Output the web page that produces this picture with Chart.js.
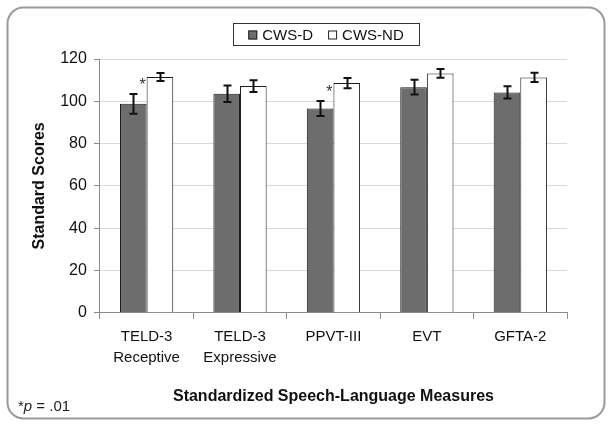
<!DOCTYPE html>
<html>
<head>
<meta charset="utf-8">
<script src="https://cdn.jsdelivr.net/npm/chart.js@4.4.1/dist/chart.umd.min.js"></script>
<style>
    html, body { margin: 0; padding: 0; background: #fff; }
    #wrap { width: 612px; height: 427px; position: relative; }
</style>
</head>
<body>
<div id="wrap"><canvas id="scoresChart" width="612" height="427"></canvas></div>
<script>
const categories = [
    ['TELD-3', 'Receptive'],
    ['TELD-3', 'Expressive'],
    'PPVT-III',
    'EVT',
    'GFTA-2',
];
const seriesNames = ['CWS-D', 'CWS-ND'];
const cwsD = [98.8, 103.6, 96.6, 106.7, 104.2];
const cwsND = [111.5, 107.2, 108.6, 113.2, 111.3];
const errD = [4.7, 3.9, 3.6, 3.5, 2.9];
const errND = [1.9, 2.8, 2.4, 2.1, 2.2];
const significant = [true, false, true, false, false];
const yTicks = [0, 20, 40, 60, 80, 100, 120];

const fontFamily = '"Liberation Sans", Arial, sans-serif';
const errors = [errD, errND];

const frame = {
    id: 'frame',
    beforeDraw(chart) {
        const { ctx } = chart;
        ctx.save();
        ctx.fillStyle = '#fff';
        ctx.fillRect(0, 0, chart.width, chart.height);
        ctx.strokeStyle = '#9a9a9a';
        ctx.lineWidth = 2;
        ctx.beginPath();
        ctx.roundRect(7.5, 7.5, 597, 411, 16);
        ctx.stroke();
        ctx.restore();
    },
};

const errorBars = {
    id: 'errorBars',
    afterDatasetsDraw(chart) {
        const { ctx } = chart;
        const y = chart.scales.y;
        ctx.save();
        ctx.strokeStyle = '#111';
        ctx.lineWidth = 2;
        chart.data.datasets.forEach((ds, di) => {
            const meta = chart.getDatasetMeta(di);
            meta.data.forEach((bar, i) => {
                const top = y.getPixelForValue(ds.data[i] + errors[di][i]);
                const bottom = y.getPixelForValue(ds.data[i] - errors[di][i]);
                const x = Math.round(bar.x) + 0.5;
                ctx.beginPath();
                ctx.moveTo(x, top);
                ctx.lineTo(x, bottom);
                ctx.moveTo(x - 4, top);
                ctx.lineTo(x + 4, top);
                ctx.moveTo(x - 4, bottom);
                ctx.lineTo(x + 4, bottom);
                ctx.stroke();
            });
        });

        // significance stars next to CWS-ND bars
        ctx.fillStyle = '#333';
        ctx.font = `16px ${fontFamily}`;
        ctx.textAlign = 'right';
        ctx.textBaseline = 'top';
        const ndMeta = chart.getDatasetMeta(1);
        significant.forEach((flag, i) => {
            if (!flag) {
                return;
            }
            const bar = ndMeta.data[i];
            ctx.fillText('*', bar.x - bar.width / 2 - 1, bar.y + 1);
        });
        ctx.restore();
    },
};

const boxedLegend = {
    id: 'boxedLegend',
    afterDraw(chart) {
        const { ctx } = chart;
        const colors = chart.data.datasets.map((ds) => ds.backgroundColor);
        ctx.save();
        ctx.font = `15px ${fontFamily}`;
        ctx.textBaseline = 'middle';
        ctx.textAlign = 'left';
        const box = 9;
        const gap = 5;
        const spacing = 15;
        const widths = seriesNames.map((n) => box + gap + ctx.measureText(n).width);
        const total = widths.reduce((a, b) => a + b, 0) + spacing;
        const cx = 326;
        const cy = 35;
        ctx.strokeStyle = '#333';
        ctx.lineWidth = 1;
        ctx.strokeRect(233.5, 23.5, 186, 22);
        let x = cx - total / 2;
        seriesNames.forEach((name, i) => {
            ctx.fillStyle = colors[i];
            ctx.fillRect(x, cy - 4.5, box, box);
            ctx.strokeStyle = '#222';
            ctx.strokeRect(x + 0.5, cy - 4, box - 1, box - 1);
            ctx.fillStyle = '#111';
            ctx.fillText(name, x + box + gap, cy + 1);
            x += widths[i] + spacing;
        });

        // footnote
        ctx.font = `15px ${fontFamily}`;
        ctx.textBaseline = 'alphabetic';
        let fx = 18;
        const fy = 411;
        ctx.fillStyle = '#222';
        ctx.fillText('*', fx, fy);
        fx += ctx.measureText('*').width;
        ctx.font = `italic 15px ${fontFamily}`;
        ctx.fillText('p', fx, fy);
        fx += ctx.measureText('p').width;
        ctx.font = `15px ${fontFamily}`;
        ctx.fillText(' = .01', fx, fy);
        ctx.restore();
    },
};

new Chart(document.getElementById('scoresChart'), {
    type: 'bar',
    data: {
        labels: categories,
        datasets: [
            {
                label: seriesNames[0],
                data: cwsD,
                backgroundColor: '#6d6d6d',
                borderColor: '#1a1a1a',
                borderWidth: 1,
            },
            {
                label: seriesNames[1],
                data: cwsND,
                backgroundColor: '#ffffff',
                borderColor: '#1a1a1a',
                borderWidth: 1,
            },
        ],
    },
    options: {
        responsive: false,
        animation: false,
        devicePixelRatio: 1,
        layout: {
            padding: { top: 59, left: 30, right: 45, bottom: 21 },
        },
        datasets: {
            bar: {
                categoryPercentage: 0.57,
                barPercentage: 1,
            },
        },
        plugins: {
            legend: { display: false },
            tooltip: { enabled: false },
        },
        scales: {
            x: {
                grid: {
                    drawOnChartArea: false,
                    drawTicks: true,
                    tickLength: 6,
                    tickColor: '#8c8c8c',
                },
                border: { color: '#8c8c8c', width: 1 },
                ticks: {
                    color: '#111',
                    font: { family: fontFamily, size: 15, lineHeight: 1.4 },
                    padding: 8,
                    maxRotation: 0,
                },
                title: {
                    display: true,
                    text: 'Standardized Speech-Language Measures',
                    color: '#111',
                    font: { family: fontFamily, size: 16, weight: 'bold' },
                    padding: { top: 10, bottom: 0 },
                },
            },
            y: {
                min: 0,
                max: 120,
                afterBuildTicks: (axis) => {
                    axis.ticks = yTicks.map((v) => ({ value: v }));
                },
                grid: {
                    color: '#d9d9d9',
                    tickColor: '#8c8c8c',
                    tickLength: 6,
                },
                border: { color: '#8c8c8c', width: 1 },
                ticks: {
                    color: '#111',
                    font: { family: fontFamily, size: 16 },
                    padding: 7,
                },
                title: {
                    display: true,
                    text: 'Standard Scores',
                    color: '#111',
                    font: { family: fontFamily, size: 16, weight: 'bold' },
                    padding: { top: 0, bottom: 4 },
                },
            },
        },
    },
    plugins: [frame, errorBars, boxedLegend],
});
</script>
</body>
</html>
